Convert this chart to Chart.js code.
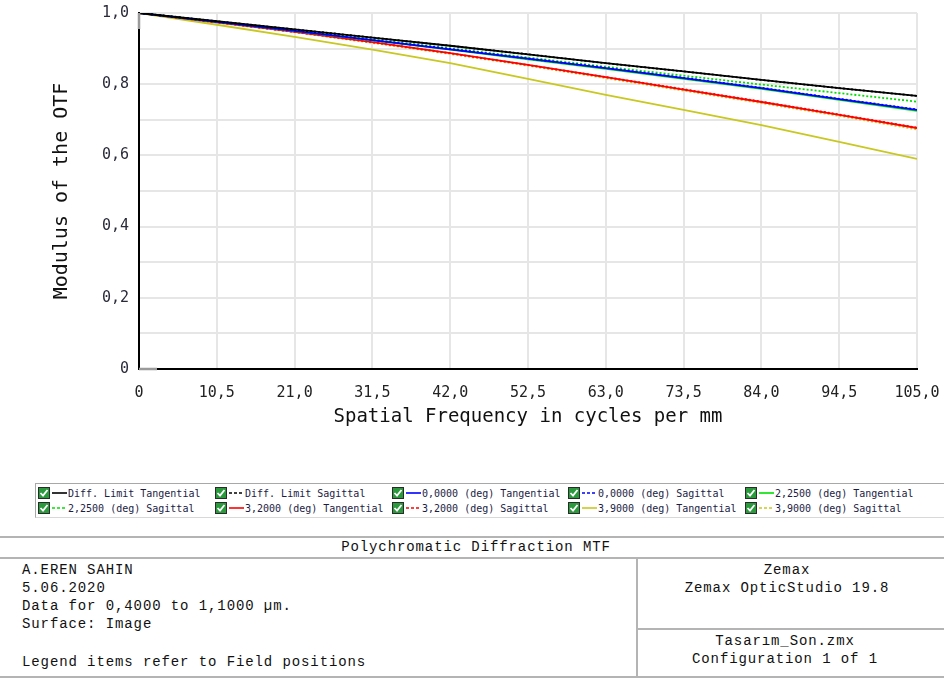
<!DOCTYPE html>
<html>
<head>
<meta charset="utf-8">
<script src="https://cdn.jsdelivr.net/npm/chart.js@4/dist/chart.umd.min.js"></script>
<style>
  html, body { margin: 0; padding: 0; background: #fff; }
  body { width: 944px; height: 678px; position: relative; overflow: hidden; }
  #plot { position: absolute; left: 0; top: 0; }
  #legend { position: absolute; left: 35px; top: 483px; width: 915px; height: 33px;
            border-top: 1px solid #a8a8a8; border-left: 1px solid #a8a8a8; border-bottom: 1px solid #d8d8d8; }
  .item { position: absolute; height: 12px; display: flex; align-items: center; white-space: nowrap;
          font: 10px "DejaVu Sans Mono", monospace; color: #1c1c44; }
  .item svg { flex: none; }
  .block { position: absolute; font: 14px "Liberation Mono", monospace; letter-spacing: 0.9px; color: #111; white-space: pre; line-height: 18px; }
  .hline { position: absolute; height: 0; border-top: 2px solid #b4b4b4; }
  .vline { position: absolute; width: 0; border-left: 2px solid #b4b4b4; }
</style>
</head>
<body>
<canvas id="plot" width="944" height="440"></canvas>
<div id="legend"></div>

<div class="hline" style="left:0;top:536px;width:944px"></div>
<div class="block" style="left:4px;top:538px;width:944px;text-align:center">Polychromatic Diffraction MTF</div>
<div class="hline" style="left:0;top:557px;width:944px"></div>
<div class="vline" style="left:636px;top:558px;height:118px"></div>
<div class="hline" style="left:637px;top:628px;width:307px"></div>
<div class="hline" style="left:0;top:676px;width:944px"></div>

<div class="block" style="left:22px;top:561px">A.EREN SAHIN
5.06.2020
Data for 0,4000 to 1,1000 µm.
Surface: Image</div>
<div class="block" style="left:22px;top:653px">Legend items refer to Field positions</div>
<div class="block" style="left:634px;top:561px;width:306px;text-align:center">Zemax
Zemax OpticStudio 19.8</div>
<div class="block" style="left:632px;top:632px;width:306px;text-align:center">Tasarım_Son.zmx
Configuration 1 of 1</div>

<script>
// Spatial frequency samples (cycles per mm)
const freq = [0, 10.5, 21, 31.5, 42, 52.5, 63, 73.5, 84, 94.5, 105];

// Modulus of the OTF for each field / orientation
const diffTan     = [1, 0.977, 0.954, 0.931, 0.908, 0.884, 0.859, 0.836, 0.812, 0.789, 0.767];
const diffSag     = [1, 0.977, 0.954, 0.931, 0.908, 0.884, 0.859, 0.836, 0.812, 0.789, 0.767];
const field0Tan   = [1, 0.975, 0.950, 0.924, 0.898, 0.872, 0.845, 0.817, 0.789, 0.758, 0.728];
const field0Sag   = [1, 0.975, 0.950, 0.924, 0.899, 0.872, 0.846, 0.818, 0.790, 0.759, 0.729];
const field225Tan = [1, 0.975, 0.949, 0.923, 0.897, 0.870, 0.843, 0.815, 0.787, 0.756, 0.725];
const field225Sag = [1, 0.976, 0.951, 0.926, 0.901, 0.875, 0.849, 0.824, 0.799, 0.775, 0.751];
const field32Tan  = [1, 0.974, 0.947, 0.918, 0.887, 0.854, 0.820, 0.785, 0.750, 0.714, 0.677];
const field32Sag  = [1, 0.974, 0.947, 0.918, 0.887, 0.854, 0.820, 0.786, 0.751, 0.715, 0.678];
const field39Tan  = [1, 0.967, 0.933, 0.897, 0.859, 0.815, 0.770, 0.728, 0.685, 0.638, 0.590];
const field39Sag  = [1, 0.973, 0.946, 0.916, 0.885, 0.852, 0.817, 0.782, 0.747, 0.711, 0.673];

// Axis ticks
const xTickValues = [0, 10.5, 21, 31.5, 42, 52.5, 63, 73.5, 84, 94.5, 105];
const xTickLabels = ['0', '10,5', '21,0', '31,5', '42,0', '52,5', '63,0', '73,5', '84,0', '94,5', '105,0'];
const yTickValues = [0, 0.1, 0.2, 0.3, 0.4, 0.5, 0.6, 0.7, 0.8, 0.9, 1.0];
const yTickLabels = ['0', '', '0,2', '', '0,4', '', '0,6', '', '0,8', '', '1,0'];

const seriesNames = [
  'Diff. Limit Tangential', 'Diff. Limit Sagittal',
  '0,0000 (deg) Tangential', '0,0000 (deg) Sagittal',
  '2,2500 (deg) Tangential', '2,2500 (deg) Sagittal',
  '3,2000 (deg) Tangential', '3,2000 (deg) Sagittal',
  '3,9000 (deg) Tangential', '3,9000 (deg) Sagittal'
];
const seriesValues = [diffTan, diffSag, field0Tan, field0Sag, field225Tan, field225Sag,
                      field32Tan, field32Sag, field39Tan, field39Sag];
const seriesColors = ['#000000', '#000000', '#0000ff', '#0000ff', '#00e000', '#00e000',
                      '#ff0000', '#ff0000', '#c8c820', '#c8c820'];

const datasets = seriesNames.map((name, i) => ({
  label: name,
  data: freq.map((f, k) => ({ x: f, y: seriesValues[i][k] })),
  borderColor: seriesColors[i],
  borderWidth: 1.8,
  borderDash: i % 2 === 1 ? [2, 2] : [],
  pointRadius: 0,
  fill: false,
  tension: 0
}));

const monoTick = { family: 'DejaVu Sans Mono', size: 15 };

// Light grey start of each axis line near the origin, as in the OpticStudio plot frame
const axisStubs = {
  id: 'axisStubs',
  afterDraw(chart) {
    const { ctx, chartArea: a } = chart;
    ctx.save();
    ctx.strokeStyle = '#9a9a9a';
    ctx.lineWidth = 2.5;
    ctx.beginPath();
    ctx.moveTo(a.left, a.top); ctx.lineTo(a.left, a.top + 16);
    ctx.moveTo(a.left, a.bottom); ctx.lineTo(a.left + 18, a.bottom);
    ctx.stroke();
    ctx.restore();
  }
};

new Chart(document.getElementById('plot'), {
  type: 'line',
  data: { datasets },
  plugins: [axisStubs],
  options: {
    responsive: false,
    animation: false,
    events: [],
    layout: { padding: { left: 0, top: 13, right: 27, bottom: 0 } },
    plugins: { legend: { display: false }, tooltip: { enabled: false } },
    scales: {
      x: {
        type: 'linear', min: 0, max: 105,
        afterBuildTicks: s => { s.ticks = xTickValues.map(v => ({ value: v })); },
        afterFit: s => { s.height = 71; s.paddingLeft = 0; s.paddingRight = 0; },
        ticks: {
          autoSkip: false, maxRotation: 0, padding: 15, color: '#222', font: monoTick,
          callback: (v, i) => xTickLabels[i]
        },
        grid: { color: '#e6e6e6', lineWidth: 2, drawTicks: false },
        border: { color: '#000', width: 2 },
        title: { display: true, text: 'Spatial Frequency in cycles per mm', color: '#111',
                 font: { family: 'DejaVu Sans Mono', size: 19 }, padding: { top: 2, bottom: 12 } }
      },
      y: {
        type: 'linear', min: 0, max: 1,
        afterBuildTicks: s => { s.ticks = yTickValues.map(v => ({ value: v })); },
        afterFit: s => { s.width = 139; s.paddingTop = 0; s.paddingBottom = 0; },
        ticks: {
          autoSkip: false, padding: 10, color: '#2a2a3a', font: monoTick,
          callback: (v, i) => yTickLabels[i]
        },
        grid: { color: '#e6e6e6', lineWidth: 2, drawTicks: false },
        border: { color: '#000', width: 2 },
        title: { display: true, text: 'Modulus of the OTF', color: '#111',
                 font: { family: 'DejaVu Sans Mono', size: 20 }, padding: { top: 50, bottom: 0 } }
      }
    }
  }
});

// Legend rows built from the same series list
const legend = document.getElementById('legend');
const colX = [2, 179, 356, 532, 709];
const rowY = [3, 18];
seriesNames.forEach((name, i) => {
  const col = i % 5, row = Math.floor(i / 5);
  const dash = i % 2 === 1 ? 'stroke-dasharray="3,2"' : '';
  const el = document.createElement('div');
  el.className = 'item';
  el.style.left = colX[col] + 'px';
  el.style.top = rowY[row] + 'px';
  el.innerHTML =
    '<svg width="13" height="12" viewBox="0 0 13 12">' +
      '<rect x="0.5" y="0.5" width="11" height="11" fill="#2a9a3c" stroke="#2b2b2b"/>' +
      '<path d="M2.5 6 L5 8.6 L9.5 3" fill="none" stroke="#ffffff" stroke-width="1.8"/>' +
    '</svg>' +
    '<svg width="17" height="12" viewBox="0 0 17 12">' +
      '<line x1="1" y1="6" x2="16" y2="6" stroke="' + seriesColors[i] + '" stroke-width="1.6" ' + dash + '/>' +
    '</svg>' +
    '<span>' + name + '</span>';
  legend.appendChild(el);
});
</script>
</body>
</html>
